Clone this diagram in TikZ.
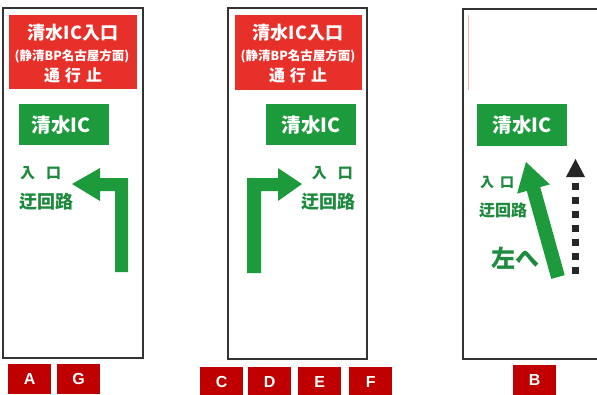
\documentclass[tikz,border=0pt]{standalone}
\usepackage{fontspec}
\setmainfont{Liberation Sans}
\newfontfamily\jp{Noto Sans CJK JP}
\definecolor{sred}{HTML}{E8302A}
\definecolor{sgreen}{HTML}{1C9A3C}
\definecolor{tgreen}{HTML}{1E8A3E}
\definecolor{lred}{HTML}{C00000}
\definecolor{frame}{HTML}{333333}
\begin{document}
\begin{tikzpicture}[x=1pt,y=-1pt,
  panel/.style={draw=frame,line width=1.1pt},
  redbox/.style={fill=sred,draw=none},
  greenbox/.style={fill=sgreen,draw=none},
  wtxt/.style={text=white,font=\jp\bfseries,inner sep=0pt},
  gtxt/.style={text=tgreen,font=\jp\bfseries,inner sep=0pt},
  lab/.style={fill=lred,text=white,font=\bfseries\fontsize{16}{16}\selectfont,minimum width=43pt,minimum height=30pt,inner sep=0pt,anchor=north west},
  arr/.style={fill=sgreen,draw=none}]
\useasboundingbox (0,0) rectangle (597,394);
% ---------- panel A/G ----------
\draw[panel] (3,8) rectangle (143,358);
\fill[redbox] (9,15) rectangle (137,89);
\node[wtxt,font=\jp\bfseries\fontsize{18}{18}\selectfont] (a1) at (73,33) {清水IC入口};
\node[wtxt,font=\jp\bfseries\fontsize{12.5}{12.5}\selectfont] (a2) at (72,56) {(静清BP名古屋方面)};
\node[wtxt,font=\jp\bfseries\fontsize{16}{16}\selectfont] (a3) at (73,75) {通\hspace{5pt}行\hspace{5pt}止};
\fill[greenbox] (19,104) rectangle (109,145);
\node[wtxt,font=\jp\bfseries\fontsize{19.5}{19.5}\selectfont] (a4) at (61,125) {清水IC};
\node[gtxt,font=\jp\bfseries\fontsize{15}{15}\selectfont,anchor=west] (a5) at (20,173) {入\hspace{11pt}口};
\node[gtxt,font=\jp\bfseries\fontsize{18}{18}\selectfont,anchor=west] (a6) at (19,202) {迂回路};
\fill[arr] (128,272) -- (115,272) -- (115,191) -- (100,191) -- (100,201) -- (72,184) -- (100,168) -- (100,178) -- (128,178) -- cycle;
\node[lab] (la) at (8,364) {A};
\node[lab] (lg) at (57,364) {G};
% ---------- panel C/D/E/F ----------
\draw[panel] (228,8) rectangle (367,359);
\fill[redbox] (235,15) rectangle (362,90);
\node[wtxt,font=\jp\bfseries\fontsize{18}{18}\selectfont] (c1) at (298,33) {清水IC入口};
\node[wtxt,font=\jp\bfseries\fontsize{12.5}{12.5}\selectfont] (c2) at (298,56) {(静清BP名古屋方面)};
\node[wtxt,font=\jp\bfseries\fontsize{16}{16}\selectfont] (c3) at (298,75) {通\hspace{5pt}行\hspace{5pt}止};
\fill[greenbox] (266,104) rectangle (356,145);
\node[wtxt,font=\jp\bfseries\fontsize{19.5}{19.5}\selectfont] (c4) at (311,125) {清水IC};
\node[gtxt,font=\jp\bfseries\fontsize{15}{15}\selectfont,anchor=east] (c5) at (353,173) {入\hspace{11pt}口};
\node[gtxt,font=\jp\bfseries\fontsize{18}{18}\selectfont,anchor=east] (c6) at (356,202) {迂回路};
\fill[arr] (247,273) -- (261,273) -- (261,191) -- (278,191) -- (278,201) -- (302,184) -- (278,168) -- (278,178) -- (247,178) -- cycle;
\node[lab] (lc) at (200,367) {C};
\node[lab] (ld) at (248,367) {D};
\node[lab] (le) at (298,367) {E};
\node[lab] (lf) at (349,367) {F};
% ---------- panel B ----------
\draw[panel] (597,9) -- (463,9) -- (463,359) -- (597,359);
\draw[red!30,line width=0.6pt] (468,15) -- (468,90);
\fill[greenbox] (477,104) rectangle (567,146);
\node[wtxt,font=\jp\bfseries\fontsize{19.5}{19.5}\selectfont] (b4) at (522,125) {清水IC};
\node[gtxt,font=\jp\bfseries\fontsize{14}{14}\selectfont,anchor=west] (b5) at (480,183) {入\hspace{6pt}口};
\node[gtxt,font=\jp\bfseries\fontsize{16}{16}\selectfont,anchor=west] (b6) at (479,210) {迂回路};
\node[gtxt,font=\jp\bfseries\fontsize{24}{24}\selectfont,anchor=west] (b7) at (491,258) {左へ};
\fill[arr] (526,162) -- (549.9,184.4) -- (540.2,187.1) -- (564.7,275.1) -- (551.3,278.9) -- (526.8,190.9) -- (517.1,193.6) -- cycle;
\fill[black!85] (575.5,159) -- (585,177) -- (566,177) -- cycle;
\coordinate (dtop) at (575.5,183);
\coordinate (dbot) at (575.5,279);
\draw[black!85,line width=7pt,dash pattern=on 7pt off 7pt] (dtop) -- (dbot);
\node[lab] (lb) at (513,365) {B};
\end{tikzpicture}
\end{document}
